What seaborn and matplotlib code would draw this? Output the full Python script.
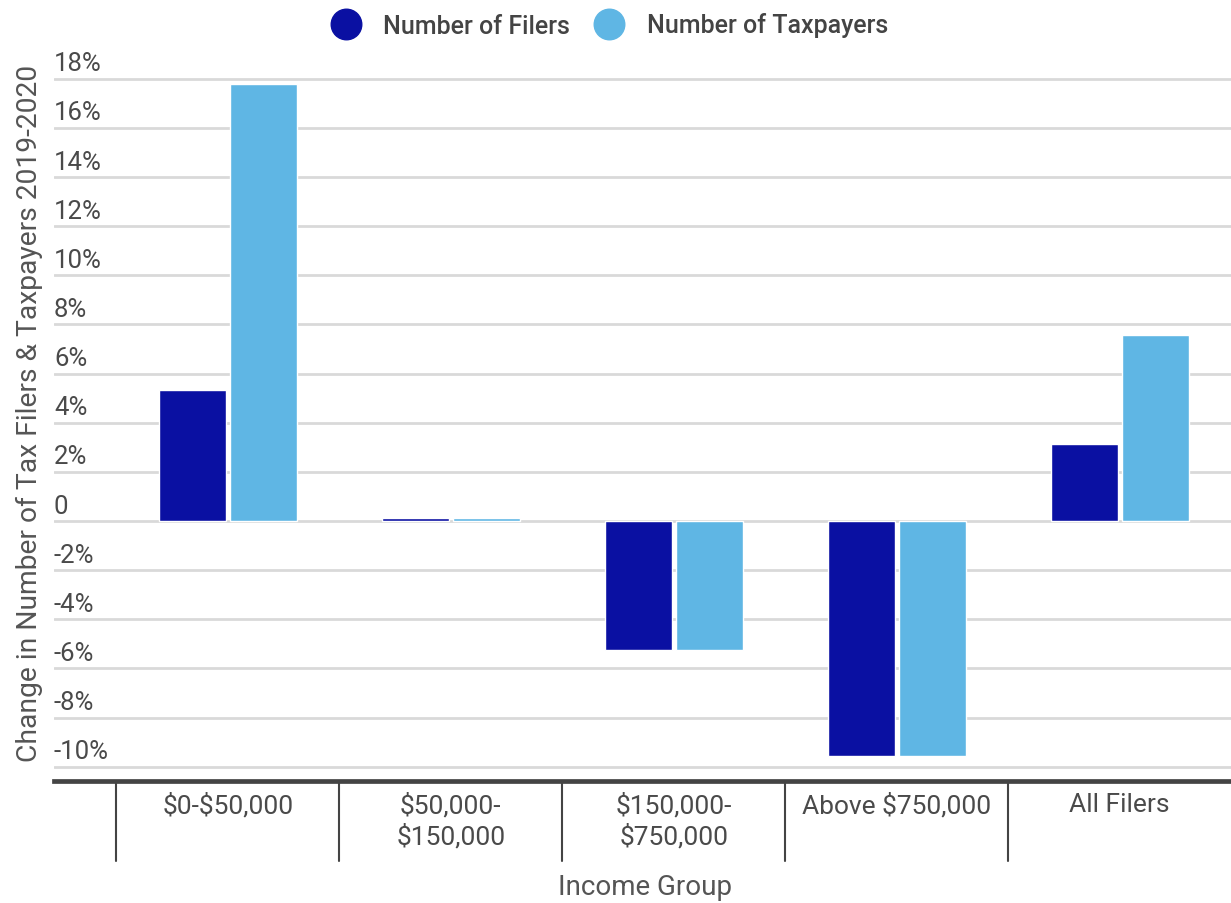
import matplotlib
matplotlib.use("Agg")
import matplotlib.pyplot as plt
import matplotlib.transforms as mtransforms
from matplotlib.lines import Line2D
import seaborn as sns
import pandas as pd

# ---- data ----
categories = ["$0-$50,000", "$50,000-\n$150,000", "$150,000-\n$750,000", "Above $750,000", "All Filers"]
series_names = ["Number of Filers", "Number of Taxpayers"]
filers = [5.33, 0.12, -5.25, -9.55, 3.13]
taxpayers = [17.8, 0.12, -5.25, -9.55, 7.57]
ytick_values = [-10, -8, -6, -4, -2, 0, 2, 4, 6, 8, 10, 12, 14, 16, 18]
ytick_labels = ["-10%", "-8%", "-6%", "-4%", "-2%", "0", "2%", "4%", "6%", "8%",
                "10%", "12%", "14%", "16%", "18%"]
colors = ["#0a10a2", "#5fb6e4"]

df = pd.DataFrame({
    "Income Group": categories * 2,
    "Series": [series_names[0]] * len(categories) + [series_names[1]] * len(categories),
    "Value": filers + taxpayers,
})

sns.set_theme(style="white")
plt.rcParams["font.family"] = ["Roboto", "DejaVu Sans"]

W, H = 1231, 904
fig = plt.figure(figsize=(W / 100, H / 100), dpi=100)
ax_left, ax_right = 54 / W, 1.0
ax_bottom_px, ax_top_px = 782, 72.4
ax_h_px = ax_bottom_px - ax_top_px
ax = fig.add_axes([ax_left, 1 - ax_bottom_px / H, ax_right - ax_left, ax_h_px / H])

sns.barplot(data=df, x="Income Group", y="Value", hue="Series", palette=colors,
            width=0.637, gap=0.057, ax=ax, legend=False, saturation=1, zorder=3)

ax.set_xlim(-0.78, 4.5)
ax.set_ylim(-10.58, 18.3)

# gridlines
for v in ytick_values:
    ax.axhline(v, color="#d9d9d9", lw=2.0, zorder=1)
ax.set_yticks([])
for s in ["top", "right", "left"]:
    ax.spines[s].set_visible(False)
ax.spines["bottom"].set_color("#444444")
ax.spines["bottom"].set_linewidth(3.4)
ax.spines["bottom"].set_zorder(5)

# y tick labels above gridlines
trans = mtransforms.blended_transform_factory(ax.transAxes, ax.transData)
offset = mtransforms.ScaledTranslation(0, 8.5 / 100, fig.dpi_scale_trans)
for v, lab in zip(ytick_values, ytick_labels):
    ax.text(0.0, v, lab, transform=trans + offset, ha="left", va="baseline",
            fontsize=18.5, color="#4a4a4a")

# x tick labels
ax.set_xticks(range(len(categories)))
ax.set_xticklabels(categories, fontsize=19, color="#4a4a4a", linespacing=1.25)
for t in ax.get_xticklabels():
    t.set_parse_math(False)
ax.tick_params(axis="x", length=0, pad=8)

# category separators
tsep = mtransforms.blended_transform_factory(ax.transData, ax.transAxes)
depth = 80 / ax_h_px
for xs in [-0.5, 0.5, 1.5, 2.5, 3.5]:
    ax.add_line(Line2D([xs, xs], [0, -depth], transform=tsep, color="#444444",
                       lw=1.5, clip_on=False))

# axis labels
ax.set_xlabel("Income Group", fontsize=20, color="#555555")
ax.xaxis.set_label_coords((645 - 54) / (W - 54), (782 - 874) / ax_h_px)
ax.set_ylabel("Change in Number of Tax Filers & Taxpayers 2019-2020", fontsize=20.3, color="#555555")
ax.yaxis.set_label_coords((29 - 54) / (W - 54), (782 - 413.5) / ax_h_px)
ax.yaxis.label.set_va("center")

# legend
handles = [Line2D([], [], marker="o", linestyle="", markersize=22, markerfacecolor=c,
                  markeredgecolor=c) for c in colors]
fig.legend(handles, series_names, loc="center", bbox_to_anchor=(0.495, 1 - 26 / H), ncol=2,
           frameon=False, prop={"size": 18, "weight": "medium"}, labelcolor="#444444",
           handletextpad=0.9, columnspacing=0.95, handlelength=1.2)

fig.savefig("out.png", dpi=100)
